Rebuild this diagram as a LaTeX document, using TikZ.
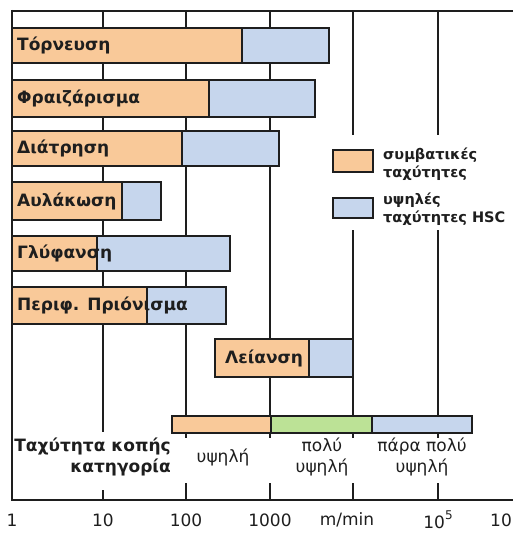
\documentclass[tikz,border=0pt]{standalone}
\usepackage{fontspec}
\setmainfont{DejaVu Sans}
\definecolor{conv}{RGB}{249,201,153}
\definecolor{hsc}{RGB}{198,214,237}
\definecolor{grn}{RGB}{188,226,150}
\definecolor{ink}{RGB}{30,30,30}
\tikzset{
  grid/.style={draw=ink,line width=1.6pt},
  frame/.style={draw=ink,line width=2.4pt},
  convbar/.style={draw=ink,line width=1.6pt,fill=conv},
  hscbar/.style={draw=ink,line width=1.6pt,fill=hsc},
  grnbar/.style={draw=ink,line width=1.6pt,fill=grn},
  barlabel/.style={anchor=west,inner sep=0pt,text=ink,font=\fontsize{17}{17}\selectfont\bfseries},
  legtext/.style={anchor=west,inner sep=0pt,text=ink,align=left,font=\fontsize{14.5}{18}\selectfont\bfseries},
  cattext/.style={inner sep=0pt,text=ink,align=center,font=\fontsize{17}{21}\selectfont},
  axtext/.style={inner sep=0pt,text=ink,font=\fontsize{17}{17}\selectfont},
}
\begin{document}
\begin{tikzpicture}[x=1pt,y=-1pt]
\clip (0,0) rectangle (513,533);
\fill[white] (0,0) rectangle (513,533);
% grid lines
\draw[grid] (103,11) -- (103,432);
\foreach \gx in {186,270,353,438} \draw[grid] (\gx,11) -- (\gx,438);
% legend background
\fill[white] (328,135) rectangle (513,230);
% bars
\draw[convbar] (12,28) rectangle (242,63);   \draw[hscbar] (242,28) rectangle (329,63);
\draw[convbar] (12,80) rectangle (209,117);  \draw[hscbar] (209,80) rectangle (315,117);
\draw[convbar] (12,131) rectangle (182,166); \draw[hscbar] (182,131) rectangle (279,166);
\draw[convbar] (12,182) rectangle (122,220); \draw[hscbar] (122,182) rectangle (161,220);
\draw[convbar] (12,236) rectangle (97,271);  \draw[hscbar] (97,236) rectangle (230,271);
\draw[convbar] (12,287) rectangle (147,324); \draw[hscbar] (147,287) rectangle (226,324);
\draw[convbar] (215,339) rectangle (309,377); \draw[hscbar] (309,339) rectangle (353,377);
\node[barlabel] (l1) at (17,45.5) {Τόρνευση};
\node[barlabel] (l2) at (17,98.5) {Φραιζάρισμα};
\node[barlabel] (l3) at (17,148.5) {Διάτρηση};
\node[barlabel] (l4) at (17,201) {Αυλάκωση};
\node[barlabel] (l5) at (17,253.5) {Γλύφανση};
\node[barlabel] (l6) at (17,305.5) {Περιφ. Πριόνισμα};
\node[barlabel] (l7) at (225,358) {Λείανση};
% legend
\draw[convbar] (333,150) rectangle (373,172);
\draw[hscbar] (333,198) rectangle (373,218);
\node[legtext] (g1) at (383,164) {συμβατικές\\ταχύτητες};
\node[legtext] (g2) at (383,209) {υψηλές\\ταχύτητες HSC};
% category bar
\draw[convbar] (172,416) rectangle (271,433);
\draw[grnbar] (271,416) rectangle (372,433);
\draw[hscbar] (372,416) rectangle (472,433);
\node[cattext,font=\fontsize{17}{21}\selectfont\bfseries,align=right,anchor=east] (c0) at (171,457) {Ταχύτητα κοπής\\κατηγορία};
\node[cattext] (c1) at (223,457) {υψηλή};
\node[cattext] (c2) at (322,457) {πολύ\\υψηλή};
\node[cattext] (c3) at (422,457) {πάρα πολύ\\υψηλή};
% frame
\draw[frame] (12,11) -- (513,11);
\draw[frame] (12,9.8) -- (12,500) -- (513,500);
\draw[grid] (103,490) -- (103,500);
\foreach \gx in {186,270,353,438} \draw[grid] (\gx,483) -- (\gx,500);
% axis labels
\node[axtext] (a1) at (12,520) {1};
\node[axtext] (a2) at (103,520) {10};
\node[axtext] (a3) at (186,520) {100};
\node[axtext] (a4) at (270,520) {1000};
\node[axtext] (a5) at (347,520) {m/min};
\node[axtext] (a6) at (438,520) {10\raisebox{0.55em}{\fontsize{12}{12}\selectfont 5}};
\node[axtext,anchor=west] (a7) at (490,520) {10};
\end{tikzpicture}
\end{document}
